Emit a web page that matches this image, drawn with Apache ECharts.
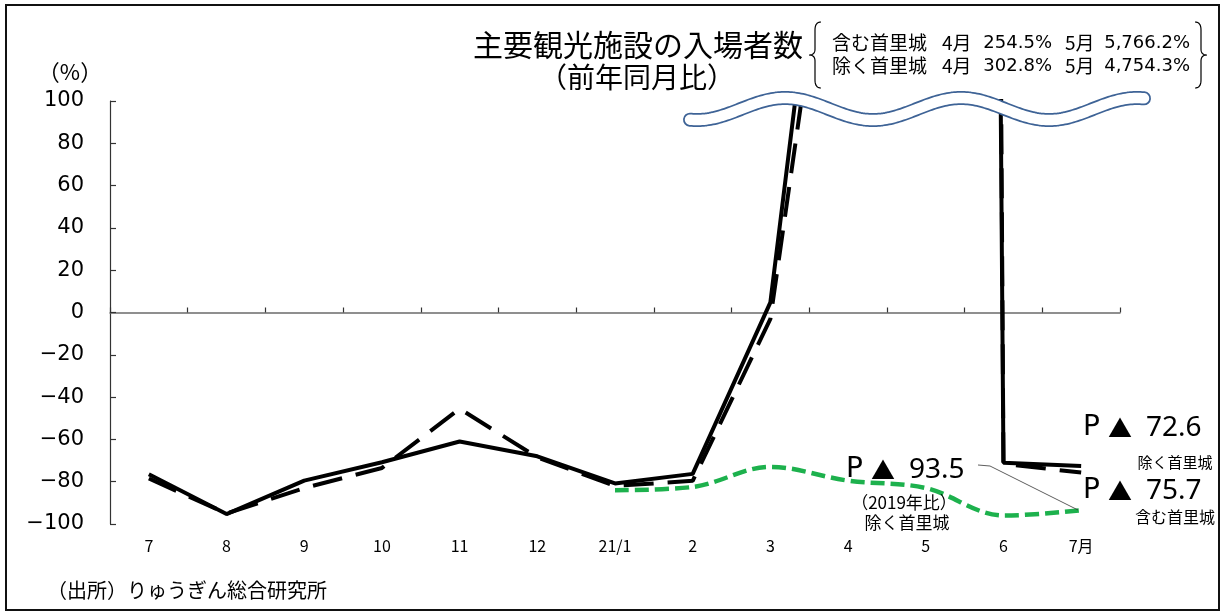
<!DOCTYPE html>
<html>
<head>
<meta charset="utf-8">
<script src="https://cdn.jsdelivr.net/npm/echarts@6/dist/echarts.min.js"></script>
<style>
  html, body { margin: 0; padding: 0; background: #fff; }
  #chart { width: 1226px; height: 612px; }
</style>
</head>
<body>
<div id="chart"></div>
<script>
// 月の区分
const months = ['7', '8', '9', '10', '11', '12', '21/1', '2', '3', '4', '5', '6', '7月'];
// 前年同月比（%）除く首里城（実線）
const exclShuri = [-76.5, -95.3, -79.5, -70.8, -61, -68, -80.8, -76.3, 4.8, 302.8, 4754.3, -71, -72.6];
// 前年同月比（%）含む首里城（破線）
const inclShuri = [-78.5, -95, -83, -73.5, -45.5, -68.5, -82, -79.6, -3, 254.5, 5766.2, -71.5, -75.7];
// 2019年比（%）除く首里城（緑破線）
const vs2019 = [null, null, null, null, null, null, -84, -82.5, -73, -79.5, -83, -96, -93.5];
// 縦軸の目盛
const yMin = -100, yMax = 100, yStep = 20;

const JP = '"Noto Sans CJK JP", "Noto Sans", sans-serif';
const NUM = '"DejaVu Sans", sans-serif';
const chart = echarts.init(document.getElementById('chart'), null, { renderer: 'canvas' });

// 省略記号（波線）の中心線
function wavePoints() {
  const pts = [];
  for (let x = 690; x <= 1144; x += 2) {
    pts.push([x, 109 + 11 * Math.cos(2 * Math.PI * (x - 697) / 176)]);
  }
  return pts;
}
const wave = wavePoints();

// 二次ベジェを折れ線で近似
function quad(p0, p1, p2, out) {
  for (let i = 0; i <= 10; i++) {
    const t = i / 10, u = 1 - t;
    out.push([u * u * p0[0] + 2 * u * t * p1[0] + t * t * p2[0],
              u * u * p0[1] + 2 * u * t * p1[1] + t * t * p2[1]]);
  }
}
// 波括弧（dir = -1 で左向き、1 で右向き）
function brace(x, top, bottom, dir) {
  const mid = (top + bottom) / 2, pts = [];
  const tipX = x + dir * 6, endX = x - dir * 6;
  quad([endX, top], [x, top], [x, top + 8], pts);
  pts.push([x, mid - 6]);
  quad([x, mid - 6], [x, mid], [tipX, mid], pts);
  quad([tipX, mid], [x, mid], [x, mid + 6], pts);
  pts.push([x, bottom - 8]);
  quad([x, bottom - 8], [x, bottom], [endX, bottom], pts);
  return pts;
}

function txt(x, y, text, size, align, family) {
  return {
    type: 'text', x: x, y: y, z: 100,
    style: {
      text: text, fill: '#000', font: size + 'px ' + (family || JP),
      align: align || 'center', verticalAlign: 'middle'
    }
  };
}

// 「P▲ 数値」の注記
function pLabel(x, y, num) {
  return [
    txt(x, y, 'P', 28, 'left', NUM),
    txt(x + 37, y, '▲', 24, 'center'),
    txt(x + 63, y, num, 28, 'left', '"Noto Sans", sans-serif')
  ];
}

const legendRows = [
  { y: 43, name: '含む首里城', a: '254.5%', b: '5,766.2%' },
  { y: 66, name: '除く首里城', a: '302.8%', b: '4,754.3%' }
];
const legendTexts = [];
legendRows.forEach(r => {
  legendTexts.push(txt(832, r.y, r.name, 19, 'left'));
  legendTexts.push(txt(942, r.y, '4月', 19, 'left'));
  legendTexts.push(txt(1052, r.y, r.a, 18, 'right', NUM));
  legendTexts.push(txt(1065, r.y, '5月', 19, 'left'));
  legendTexts.push(txt(1190, r.y, r.b, 18, 'right', NUM));
});

const option = {
  animation: false,
  backgroundColor: '#fff',
  grid: { left: 110, right: 106, top: 101, bottom: 88 },
  xAxis: [
    {
      type: 'category', data: months, boundaryGap: true, position: 'bottom',
      axisLine: { onZero: true, lineStyle: { color: '#6b6b6b', width: 1.5 } },
      axisTick: { show: true, inside: true, length: 5, lineStyle: { color: '#333', width: 1.2 } },
      axisLabel: { show: false }, splitLine: { show: false }
    },
    {
      type: 'category', data: months, boundaryGap: true, position: 'bottom',
      axisLine: { show: false, onZero: false }, axisTick: { show: false },
      axisLabel: { show: true, margin: 14, color: '#000', fontSize: 16, fontFamily: JP },
      splitLine: { show: false }
    }
  ],
  yAxis: {
    type: 'value', min: yMin, max: yMax, interval: yStep,
    axisLine: { show: true, lineStyle: { color: '#333', width: 1.2 } },
    axisTick: { show: true, inside: true, length: 6, lineStyle: { color: '#333', width: 1.2 } },
    axisLabel: {
      margin: 26, color: '#000', fontSize: 21, fontFamily: NUM,
      formatter: v => (v < 0 ? '\u2212' + Math.abs(v) : String(v))
    },
    splitLine: { show: false }
  },
  series: [
    {
      name: '除く首里城', type: 'line', data: exclShuri, xAxisIndex: 0, clip: true,
      symbol: 'none', z: 5,
      lineStyle: { color: '#000', width: 4, type: 'solid' }
    },
    {
      name: '含む首里城', type: 'line', data: inclShuri, xAxisIndex: 0, clip: true,
      symbol: 'none', z: 4,
      lineStyle: { color: '#000', width: 4, type: [30, 14], cap: 'butt' }
    },
    {
      name: '2019年比 除く首里城', type: 'line', data: vs2019, xAxisIndex: 0, clip: true,
      symbol: 'none', smooth: 0.35, z: 6,
      lineStyle: { color: '#1db14d', width: 4.5, type: [14, 6], cap: 'butt' }
    }
  ],
  graphic: [
    // 外枠
    { type: 'rect', z: 0, shape: { x: 6, y: 5, width: 1213, height: 605 },
      style: { fill: 'none', stroke: '#111', lineWidth: 2 } },
    // 波線（省略記号）
    { type: 'polyline', z: 90, shape: { points: wave },
      style: { fill: 'none', stroke: '#3e6396', lineWidth: 14, lineCap: 'round', lineJoin: 'round' } },
    { type: 'polyline', z: 91, shape: { points: wave },
      style: { fill: 'none', stroke: '#fff', lineWidth: 10.5, lineCap: 'round', lineJoin: 'round' } },
    // 波括弧
    { type: 'polyline', z: 100, shape: { points: brace(815, 22, 88, -1) },
      style: { fill: 'none', stroke: '#000', lineWidth: 1.2 } },
    { type: 'polyline', z: 100, shape: { points: brace(1201, 22, 88, 1) },
      style: { fill: 'none', stroke: '#000', lineWidth: 1.2 } },
    // 引出し線
    { type: 'polyline', z: 100, shape: { points: [[978, 465], [990, 466], [1078, 510]] },
      style: { fill: 'none', stroke: '#333', lineWidth: 0.8 } },
    txt(70, 72, '（%）', 22),
    txt(638, 45, '主要観光施設の入場者数', 30),
    txt(637, 77, '（前年同月比）', 28),
    ...legendTexts,
    ...pLabel(846, 470, '93.5'),
    txt(904, 503, '（2019年比）', 17),
    txt(907, 523, '除く首里城', 17),
    ...pLabel(1083, 428, '72.6'),
    txt(1175, 462, '除く首里城', 15),
    ...pLabel(1083, 491, '75.7'),
    txt(1175, 517, '含む首里城', 16),
    txt(47, 590, '（出所）りゅうぎん総合研究所', 20, 'left')
  ]
};
chart.setOption(option);
</script>
</body>
</html>
